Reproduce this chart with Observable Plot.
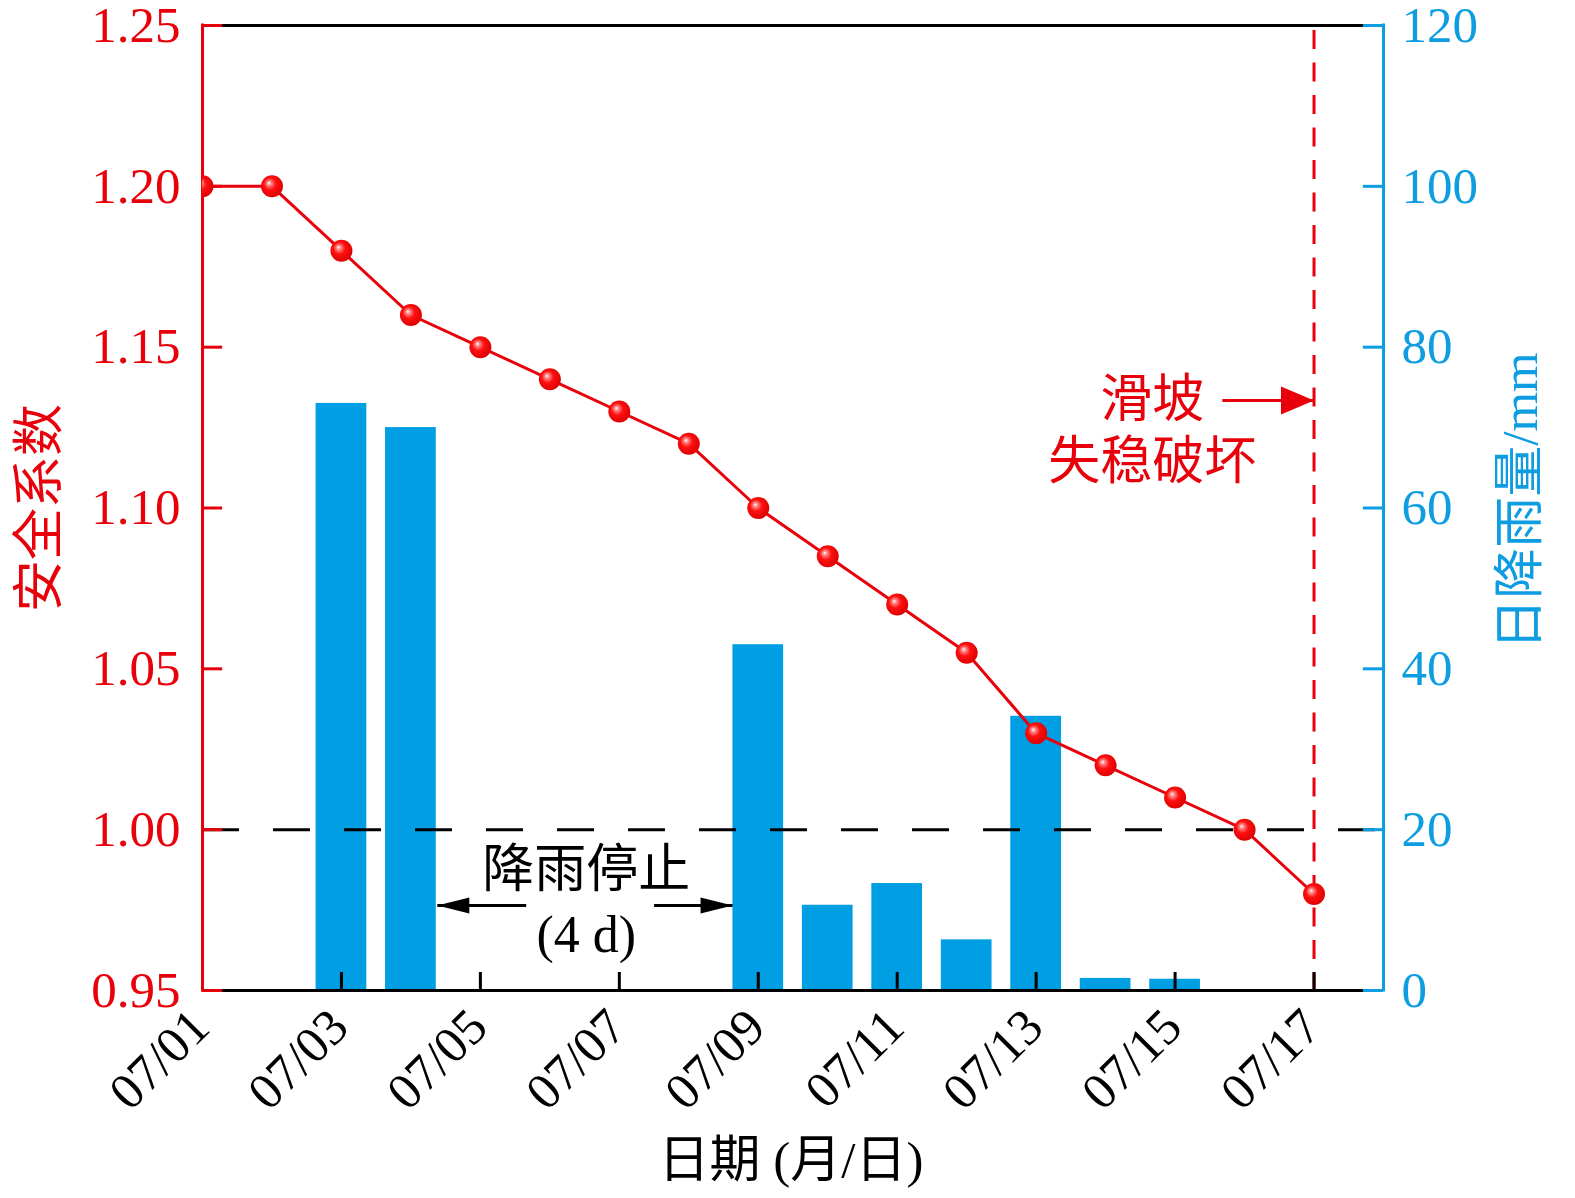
<!DOCTYPE html>
<html>
<head>
<meta charset="utf-8">
<script src="https://cdn.jsdelivr.net/npm/d3@7"></script>
<script src="https://cdn.jsdelivr.net/npm/@observablehq/plot@0.6"></script>
<style>
  html, body { margin: 0; padding: 0; background: #ffffff; }
  svg { display: block; }
</style>
</head>
<body>
<div id="chart"></div>
<script>
// ---------------- data ----------------
const dates = ["07/01","07/02","07/03","07/04","07/05","07/06","07/07","07/08","07/09",
               "07/10","07/11","07/12","07/13","07/14","07/15","07/16","07/17"];
const safetyFactor = [1.20, 1.20, 1.18, 1.16, 1.15, 1.14, 1.13, 1.12, 1.10,
                      1.085, 1.07, 1.055, 1.03, 1.02, 1.01, 1.00, 0.98];
const rainDates = ["07/03","07/04","07/09","07/10","07/11","07/12","07/13","07/14","07/15"];
const rainfall  = [73, 70, 43, 10.6, 13.3, 6.3, 34.1, 1.5, 1.4];
const xTickLabels = ["07/01","07/03","07/05","07/07","07/09","07/11","07/13","07/15","07/17"];
const safetyTicks = [0.95, 1.00, 1.05, 1.10, 1.15, 1.20, 1.25];
const rainTicks = [0, 20, 40, 60, 80, 100, 120];
const thresholdFS = 1.00;
const failureDate = "07/17";

// ---------------- styling ----------------
const RED = "#e8000b";
const BLUE_TXT = "#0d9de0";
const BLUE_BAR = "#009fe3";
const FONT = "'Liberation Serif', 'Times New Roman', 'Noto Sans CJK SC', serif";

const yMin = safetyTicks[0], yMax = safetyTicks[safetyTicks.length - 1];
const rainMax = rainTicks[rainTicks.length - 1];
const rainToY = r => yMin + r * (yMax - yMin) / rainMax;
const dayIdx = d => dates.indexOf(d);
const xMax = dates.length; // domain 0..17 (07/01 .. 07/18)

const fsRows = dates.map((d, i) => ({ i, v: safetyFactor[i] }));
const rainRows = rainDates.map((d, k) => ({ i: dayIdx(d), v: rainfall[k] }));

const barHalf = 0.365;             // bar half width (days)
const tickX = 0.29;                // tick length along x (days)
const tickY = 0.0056;              // tick length along y (FS units)

const headShape = {
  draw(ctx, l, r) {
    ctx.moveTo(0, -l);
    ctx.lineTo(-r, 0);
    ctx.lineTo(r, 0);
    ctx.closePath();
  }
};

const noteRain = [{ x: 5.525, y: 0.9873, t: "降雨停止" }, { x: 5.525, y: 0.9671, t: "(4 d)" }];
const noteRainArrows = [{ x1: 4.66, x2: 3.38, y: 0.9764 }, { x1: 6.50, x2: 7.63, y: 0.9764 }];
const noteSlide = [{ x: 13.67, y: 1.1334, t: "滑坡" }, { x: 13.67, y: 1.1141, t: "失稳破坏" }];
const noteSlideArrow = [{ x1: 14.68, x2: dayIdx(failureDate), y: 1.1334 }];

const defs = () => {
  const el = d3.create("svg:defs");
  const g = el.append("radialGradient").attr("id", "ball")
    .attr("cx", "0.45").attr("cy", "0.45").attr("r", "0.6")
    .attr("fx", "0.36").attr("fy", "0.34");
  g.append("stop").attr("offset", "0").attr("stop-color", "#ffffff");
  g.append("stop").attr("offset", "0.16").attr("stop-color", "#ff8a8a");
  g.append("stop").attr("offset", "0.45").attr("stop-color", "#ff1010");
  g.append("stop").attr("offset", "1").attr("stop-color", "#d80000");
  return el.node();
};

const chart = Plot.plot({
  width: 1575,
  height: 1198,
  marginLeft: 202,
  marginRight: 192,
  marginTop: 25,
  marginBottom: 208,
  style: { fontFamily: FONT, background: "#ffffff", overflow: "visible" },
  x: { type: "linear", domain: [0, xMax] },
  y: { domain: [yMin, yMax] },
  marks: [
    defs,
    // rainfall bars (right axis)
    Plot.rect(rainRows, {
      x1: d => d.i - barHalf, x2: d => d.i + barHalf,
      y1: yMin, y2: d => rainToY(d.v), fill: BLUE_BAR
    }),
    // frame
    Plot.ruleY([yMax], { stroke: "#000", strokeWidth: 3 }),
    Plot.ruleY([yMin], { stroke: "#000", strokeWidth: 3 }),
    Plot.ruleX([0], { stroke: RED, strokeWidth: 3, strokeLinecap: "square" }),
    Plot.ruleX([xMax], { stroke: BLUE_TXT, strokeWidth: 3, strokeLinecap: "square" }),
    // threshold FS = 1.00
    Plot.ruleY([thresholdFS], { stroke: "#000", strokeWidth: 3, strokeDasharray: "37,34" }),
    // failure date
    Plot.ruleX([dayIdx(failureDate)], { y1: yMax, y2: yMin, stroke: RED, strokeWidth: 3,
      strokeDasharray: "19,13.5", strokeDashoffset: 27.5 }),
    // ticks
    Plot.ruleY(safetyTicks, { x1: 0, x2: tickX, stroke: RED, strokeWidth: 3 }),
    Plot.ruleY(rainTicks.map(rainToY), { x1: xMax - tickX, x2: xMax, stroke: BLUE_TXT, strokeWidth: 3 }),
    Plot.ruleX(xTickLabels.map(dayIdx).filter(i => i > 0), { y1: yMin, y2: yMin + tickY, stroke: "#000", strokeWidth: 3 }),
    // safety factor line
    Plot.line(fsRows, { x: "i", y: "v", stroke: RED, strokeWidth: 3 }),
    Plot.dot(fsRows, { x: "i", y: "v", r: 11, fill: "url(#ball)", stroke: "none", clip: true }),
    // annotations
    Plot.text(noteRain, { x: "x", y: "y", text: "t", fontSize: 52, fill: "#000" }),
    Plot.link(noteRainArrows, { x1: "x1", x2: "x2", y1: "y", y2: "y", stroke: "#000", strokeWidth: 3 }),
    Plot.vector(noteRainArrows, { x: "x2", y: "y", length: 32, r: 8, anchor: "end", shape: headShape,
      rotate: d => d.x2 > d.x1 ? 90 : -90, fill: "#000", stroke: "none" }),
    Plot.text(noteSlide, { x: "x", y: "y", text: "t", fontSize: 52, fill: RED }),
    Plot.link(noteSlideArrow, { x1: "x1", x2: "x2", y1: "y", y2: "y", stroke: RED, strokeWidth: 3 }),
    Plot.vector(noteSlideArrow, { x: "x2", y: "y", length: 33, r: 14, anchor: "end", shape: headShape,
      rotate: 90, fill: RED, stroke: "none" }),
    // axes
    Plot.axisX({ ticks: xTickLabels.map(dayIdx), tickFormat: i => dates[i], tickSize: 0, tickPadding: 28,
      tickRotate: -45, fontSize: 51, label: null, color: "#000", dx: -2 }),
    Plot.axisY({ anchor: "left", ticks: safetyTicks, tickFormat: d => d.toFixed(2), tickSize: 0,
      tickPadding: 22, fontSize: 51, label: null, color: RED }),
    Plot.axisY({ anchor: "right", ticks: rainTicks.map(rainToY),
      tickFormat: v => String(Math.round((v - yMin) * rainMax / (yMax - yMin))),
      tickSize: 0, tickPadding: 18, fontSize: 51, label: null, color: BLUE_TXT }),
    // axis titles
    Plot.text(["安全系数"], { frameAnchor: "left", textAnchor: "middle", lineAnchor: "middle", text: d => d,
      rotate: -90, dx: -162, fontSize: 52, fill: RED }),
    Plot.text(["日降雨量/mm"], { frameAnchor: "right", textAnchor: "middle", lineAnchor: "middle", text: d => d,
      rotate: -90, dx: 137, dy: -7, fontSize: 51, fill: BLUE_TXT }),
    Plot.text(["日期 (月/日)"], { frameAnchor: "bottom", textAnchor: "middle", lineAnchor: "middle", text: d => d,
      dy: 170, dx: -2, fontSize: 51, fill: "#000" })
  ]
});

document.getElementById("chart").appendChild(chart);
</script>
</body>
</html>
